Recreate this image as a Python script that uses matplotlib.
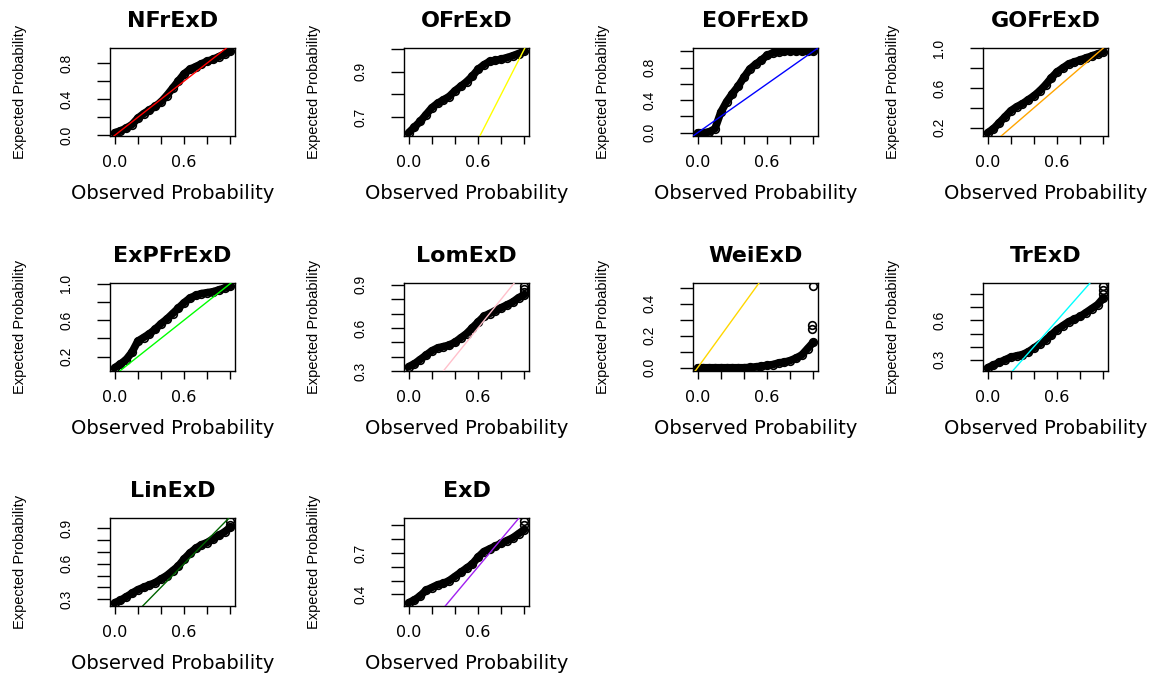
import matplotlib.pyplot as plt

plt.rcParams['font.family'] = ['DejaVu Sans']

# observed probabilities (x) shared by every panel
obs = [0.00, 0.05, 0.10, 0.15, 0.20, 0.25, 0.30, 0.35, 0.40, 0.45, 0.50,
       0.55, 0.60, 0.65, 0.70, 0.75, 0.80, 0.85, 0.90, 0.95, 1.00]

names = ["NFrExD", "OFrExD", "EOFrExD", "GOFrExD", "ExPFrExD",
         "LomExD", "WeiExD", "TrExD", "LinExD", "ExD"]

# expected probabilities
exp_nfr = [0.03, 0.05, 0.08, 0.12, 0.19, 0.24, 0.28, 0.32, 0.37, 0.44, 0.52,
           0.60, 0.68, 0.73, 0.76, 0.79, 0.82, 0.84, 0.87, 0.90, 0.93]
exp_ofr = [0.63, 0.655, 0.68, 0.71, 0.74, 0.76, 0.775, 0.79, 0.815, 0.835, 0.855,
           0.88, 0.91, 0.93, 0.945, 0.95, 0.955, 0.962, 0.97, 0.98, 0.99]
exp_eofr = [0.00, 0.00, 0.01, 0.05, 0.25, 0.38, 0.48, 0.57, 0.68, 0.78, 0.84,
            0.89, 0.95, 0.98, 0.99, 1.00, 1.00, 1.00, 1.00, 1.00, 1.00]
exp_gofr = [0.15, 0.19, 0.25, 0.31, 0.37, 0.41, 0.44, 0.48, 0.52, 0.57, 0.63,
            0.70, 0.76, 0.80, 0.84, 0.86, 0.88, 0.90, 0.92, 0.94, 0.96]
exp_expfr = [0.08, 0.12, 0.17, 0.25, 0.37, 0.41, 0.45, 0.50, 0.56, 0.61, 0.67,
             0.73, 0.79, 0.84, 0.87, 0.89, 0.90, 0.91, 0.93, 0.95, 0.97]
exp_lom = [0.33, 0.35, 0.38, 0.41, 0.44, 0.46, 0.47, 0.48, 0.50, 0.53, 0.56,
           0.60, 0.64, 0.68, 0.70, 0.72, 0.74, 0.76, 0.78, 0.81, 0.83]
exp_wei = [0.00, 0.00, 0.00, 0.00, 0.00, 0.00, 0.00, 0.00, 0.00, 0.002, 0.005,
           0.01, 0.015, 0.02, 0.03, 0.035, 0.045, 0.06, 0.08, 0.12, 0.16]
exp_tr = [0.24, 0.26, 0.28, 0.30, 0.32, 0.33, 0.34, 0.36, 0.39, 0.42, 0.45,
          0.49, 0.53, 0.56, 0.59, 0.61, 0.63, 0.66, 0.69, 0.72, 0.77]
exp_lin = [0.27, 0.29, 0.32, 0.35, 0.38, 0.40, 0.42, 0.44, 0.47, 0.50, 0.54,
           0.58, 0.64, 0.69, 0.73, 0.76, 0.78, 0.81, 0.84, 0.87, 0.91]
exp_exd = [0.34, 0.36, 0.39, 0.43, 0.45, 0.47, 0.48, 0.50, 0.53, 0.56, 0.59,
           0.62, 0.67, 0.71, 0.73, 0.75, 0.77, 0.79, 0.81, 0.84, 0.87]
expected = [exp_nfr, exp_ofr, exp_eofr, exp_gofr, exp_expfr,
            exp_lom, exp_wei, exp_tr, exp_lin, exp_exd]

# stray points at the upper end of some panels
tail_x = [[], [], [], [], [], [1.0, 1.0, 1.0], [0.985, 0.99, 1.0],
          [1.0, 1.0, 1.0], [1.0, 1.0], [1.0, 1.0]]
tail_y = [[], [], [], [], [], [0.85, 0.87, 0.89], [0.24, 0.27, 0.51],
          [0.80, 0.83, 0.86], [0.93, 0.96], [0.90, 0.93]]

# y ticks / labels as drawn (R dropped the crowded ones)
yticks = [[0.0, 0.2, 0.4, 0.6, 0.8],
          [0.7, 0.8, 0.9, 1.0],
          [0.0, 0.2, 0.4, 0.6, 0.8, 1.0],
          [0.2, 0.4, 0.6, 0.8, 1.0],
          [0.2, 0.4, 0.6, 0.8, 1.0],
          [0.3, 0.4, 0.5, 0.6, 0.7, 0.8, 0.9],
          [0.0, 0.1, 0.2, 0.3, 0.4, 0.5],
          [0.3, 0.4, 0.5, 0.6, 0.7, 0.8],
          [0.3, 0.4, 0.5, 0.6, 0.7, 0.8, 0.9],
          [0.4, 0.5, 0.6, 0.7, 0.8, 0.9]]
ylabels = [["0.0", "", "0.4", "", "0.8"],
           ["0.7", "", "0.9", ""],
           ["0.0", "", "0.4", "", "0.8", ""],
           ["0.2", "", "0.6", "", "1.0"],
           ["0.2", "", "0.6", "", "1.0"],
           ["0.3", "", "", "0.6", "", "", "0.9"],
           ["0.0", "", "0.2", "", "0.4", ""],
           ["0.3", "", "", "0.6", "", ""],
           ["0.3", "", "", "0.6", "", "", "0.9"],
           ["0.4", "", "", "0.7", "", ""]]
xticks = [0.0, 0.2, 0.4, 0.6, 0.8, 1.0]
xlabels = ["0.0", "", "", "0.6", "", ""]

line_colors = ["#FF0000", "#FFFF00", "#0000FF", "#FFA500", "#00FF00",
               "#FFC0CB", "#FFD700", "#00FFFF", "#006400", "#A020F0"]

W, H = 1154, 673
fig = plt.figure(figsize=(W / 100, H / 100), dpi=100)

col_left = [110, 404, 693, 983]
row_top = [48, 283, 518]
box_w, box_h = 125, 88

for i, name in enumerate(names):
    r, c = divmod(i, 4)
    ax = fig.add_axes([col_left[c] / W, 1 - (row_top[r] + box_h) / H,
                       box_w / W, box_h / H])

    ys = expected[i] + tail_y[i]
    lo, hi = min(ys), max(ys)
    pad = 0.04 * (hi - lo)

    ax.plot(obs, expected[i], color='black', lw=5.5,
            solid_capstyle='round', solid_joinstyle='round', zorder=2)
    ax.plot(obs, expected[i], 'o', mfc='none', mec='black', ms=5.5, mew=1.2, zorder=2)
    if tail_x[i]:
        ax.plot(tail_x[i], tail_y[i], 'o', mfc='none', mec='black',
                ms=5.5, mew=1.2, zorder=2)
    ax.axline((0, 0), slope=1, color=line_colors[i], lw=1, zorder=3)

    # R-style 4% padding, set after axline so the line does not widen the range
    ax.set_xlim(-0.04, 1.04)
    ax.set_ylim(lo - pad, hi + pad)

    ax.set_xticks(xticks, xlabels, fontsize=11.5)
    ax.set_yticks(yticks[i], ylabels[i], fontsize=10, family='Liberation Sans',
                  rotation=90, va='center')
    ax.tick_params(axis='x', length=5.8, width=1, pad=8)
    ax.tick_params(axis='y', length=9.4, width=1, pad=17)
    for s in ax.spines.values():
        s.set_linewidth(1)

    ax.set_title(name, fontsize=16, fontweight='bold', pad=15)
    ax.set_xlabel("Observed Probability", fontsize=14, labelpad=10)
    ax.set_ylabel("Expected Probability", fontsize=10.5,
                  family='Liberation Sans', labelpad=23)

fig.savefig("out.png", dpi=100)
